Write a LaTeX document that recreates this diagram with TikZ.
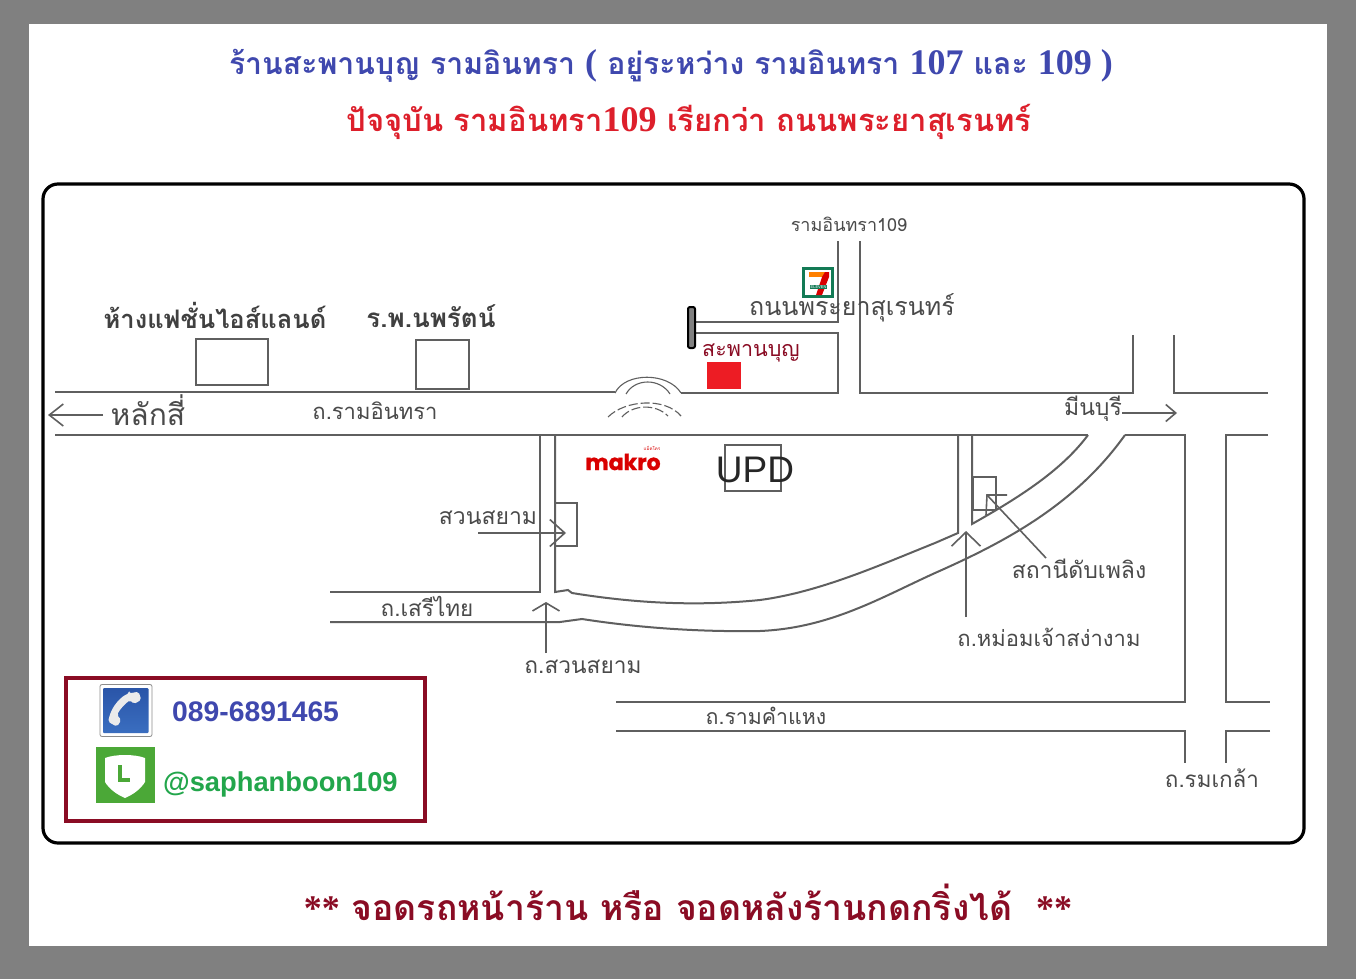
\documentclass[tikz,border=0pt]{standalone}
\usepackage{fontspec}
\usepackage{xcolor}
\usetikzlibrary{arrows.meta}
\setmainfont{Liberation Sans}
\newfontfamily\thaifont[Script=Thai]{Loma}
\newfontfamily\titlelatin{Liberation Serif}
\newfontfamily\makrofont[BoldFeatures={FakeBold=1.2}]{Poppins}
\definecolor{roadgray}{HTML}{5F5F5F}
\definecolor{labelgray}{HTML}{4A4A4A}
\definecolor{titleblue}{HTML}{3F48AE}
\definecolor{titlered}{HTML}{DD1F2B}
\definecolor{darkred}{HTML}{8A0C24}
\definecolor{linegreen}{HTML}{4BA837}
\definecolor{textgreen}{HTML}{22A64B}
\definecolor{sevengreen}{HTML}{137A55}
\definecolor{shopred}{HTML}{ED1C24}
\definecolor{phonetop}{HTML}{2A55A8}
\definecolor{phonebottom}{HTML}{3A6EC0}
\newcommand{\fs}[1]{\fontsize{#1}{#1}\selectfont}
\tikzset{
  road/.style={draw=roadgray,line width=2pt},
  thin road/.style={draw=roadgray,line width=1.1pt},
  pointer/.style 2 args={draw=roadgray,line width=1.6pt,-{Straight Barb[length=#1pt,width=#2pt]}},
  maplabel/.style={text=labelgray,font=\thaifont\fs{#1},inner sep=1pt},
  boldlabel/.style={text=black!75,font=\thaifont\bfseries\fs{#1},inner sep=1pt},
  title/.style={font=\thaifont\bfseries\fs{#1},inner sep=0pt}}

\begin{document}
\begin{tikzpicture}[x=1pt,y=-1pt]
    \useasboundingbox (0,0) rectangle (1356,979);
    \fill[black!50] (0,0) rectangle (1356,979);
    \fill[white] (29,24) rectangle (1327,946);
    \draw[black,line width=3.2pt,rounded corners=15pt] (43,184) rectangle (1304,843);
    % titles
    \node[title=30.2,text=titleblue] (titleone) at (671,66) {ร้านสะพานบุญ รามอินทรา {\titlelatin\fs{36}(} อยู่ระหว่าง รามอินทรา {\titlelatin\fs{36}107} และ {\titlelatin\fs{36}109 )}};
    \node[title=31,text=titlered] (titletwo) at (689,122) {ปัจจุบัน รามอินทรา{\titlelatin\fs{36}109} เรียกว่า ถนนพระยาสุเรนทร์};
    \node[title=35.5,text=darkred] (titlebottom) at (688,902) {{\titlelatin\fs{36}**} จอดรถหน้าร้าน หรือ จอดหลังร้านกดกริ่งได้ ~{\titlelatin\fs{36}**}};
    % roads
    \draw[road] (55,392)--(615,392);
    \draw[road] (681,393)--(838,393)--(838,333)--(695,333);
    \draw[road] (695,322)--(838,322)--(838,241);
    \draw[road] (860,241)--(860,393)--(1133,393)--(1133,335);
    \draw[road] (1174,335)--(1174,393)--(1268,393);
    \draw[road] (55,435)--(1088,435);
    \draw[road] (1125,435)--(1185,435)--(1185,702)--(616,702);
    \draw[road] (1268,435)--(1226,435)--(1226,702)--(1270,702);
    \draw[road] (616,731)--(1185,731)--(1185,763);
    \draw[road] (1270,731)--(1226,731)--(1226,763);
    \draw[road] (330,592)--(540,592)--(540,435);
    \draw[road] (958,435)--(958,533)--(935,543);
    \draw[road] (555,435)--(555,592)--(568,590)--(572,593) .. controls (640,604) and (700,606) .. (760,600) .. controls (820,592) and (880,565) .. (935,543);
    \draw[road] (330,622)--(560,622)--(582,619) .. controls (640,628) and (700,632) .. (760,631) .. controls (830,628) and (880,598) .. (935,573) .. controls (1005,542) and (1075,505) .. (1125,435);
    \draw[road] (972,435)--(972,524) .. controls (1020,497) and (1062,470) .. (1088,435);
    % bridge
    \draw[thin road] (615,393) .. controls (625,372) and (668,372) .. (681,393);
    \draw[thin road] (626,394) .. controls (635,378) and (660,378) .. (670,394);
    \draw[thin road,dash pattern=on 9pt off 3pt] (608,417) .. controls (625,400) and (665,397) .. (681,416);
    \draw[thin road,dash pattern=on 9pt off 3pt] (622,417) .. controls (632,405) and (655,403) .. (668,416);
    % buildings
    \node[draw=roadgray,line width=1.6pt,minimum width=72pt,minimum height=46pt,inner sep=0pt] (fashionbox) at (232,362) {};
    \node[draw=roadgray,line width=1.6pt,minimum width=53pt,minimum height=49pt,inner sep=0pt] (hospitalbox) at (442.5,364.5) {};
    \node[draw=roadgray,line width=1.3pt,minimum width=56pt,minimum height=46pt,inner sep=0pt] (updbox) at (753,468) {};
    \node[draw=roadgray,line width=1.3pt,minimum width=22pt,minimum height=43pt,inner sep=0pt] (siambox) at (566,524.5) {};
    \node[draw=roadgray,line width=1.3pt,minimum width=23pt,minimum height=33pt,inner sep=0pt] (firebox) at (984.5,493.5) {};
    % shop
    \fill[shopred] (707,362) rectangle (741,389);
    \draw[black,fill=gray,line width=2pt,rounded corners=2pt] (688,307) rectangle (695,348);
    % seven eleven
    \draw[sevengreen,line width=2.6pt,fill=white] (803.3,268.3) rectangle (832.7,296.7);
    \fill[orange] (809,272) rectangle (826,277);
    \fill[red!85!black] (825,272)--(829,272)--(829,277)--(822,295)--(816,295)--(822,277)--cycle;
    \node[fill=sevengreen,text=white,font=\fs{4},inner sep=.7pt] (eleven) at (818.5,287) {ELEVEN};
    % labels
    \node[boldlabel=25.5] (fashion) at (215,315) {ห้างแฟชั่นไอส์แลนด์};
    \node[boldlabel=26] (hospital) at (431,316) {ร.พ.นพรัตน์};
    \node[maplabel=30] (laksi) at (148,410) {หลักสี่};
    \node[maplabel=22] (ramroad) at (375,411) {ถ.รามอินทรา};
    \node[maplabel=23] (minburi) at (1093,409) {มีนบุรี};
    \node[maplabel=18] (ram109) at (849,224) {รามอินทรา109};
    \node[maplabel=25] (phraya) at (852,308) {ถนนพระยาสุเรนทร์};
    \node[text=darkred,font=\thaifont\fs{21.5},inner sep=0pt] (shop) at (751,353) {สะพานบุญ};
    \node[maplabel=23] (siam) at (488,518) {สวนสยาม};
    \node[maplabel=22.5] (seri) at (427,606) {ถ.เสรีไทย};
    \node[maplabel=22.7] (siamroad) at (583,667) {ถ.สวนสยาม};
    \node[maplabel=22] (mom) at (1049,637) {ถ.หม่อมเจ้าสง่างาม};
    \node[maplabel=23] (fire) at (1079,569) {สถานีดับเพลิง};
    \node[maplabel=21.3] (ramkhamhaeng) at (766,716) {ถ.รามคำแหง};
    \node[maplabel=22.4] (romklao) at (1212,778) {ถ.รมเกล้า};
    \node[text=black!85,font=\fs{37},inner sep=0pt] (upd) at (755,470) {UPD};
    \node[text=red!85!black,font=\makrofont\bfseries\fs{22},inner sep=0pt] (makro) at (623,462) {makro};
    \node[text=red!85!black,font=\thaifont\fs{4.5},inner sep=0pt] (makrothai) at (652,448) {แม็คโคร};
    % arrows
    \coordinate (laksistart) at (103,415);
    \coordinate (laksitip) at (48,415);
    \coordinate (minburistart) at (1122,413);
    \coordinate (minburitip) at (1177,413);
    \coordinate (siamstart) at (478,533);
    \coordinate (siamtip) at (566,533);
    \coordinate (seristart) at (546,653);
    \coordinate (seritip) at (546,602);
    \coordinate (momstart) at (966,617);
    \coordinate (momtip) at (966,531);
    \coordinate (firestart) at (1046,558);
    \coordinate (firetip) at (987,495);
    \draw[pointer={14}{22}] (laksistart)--(laksitip);
    \draw[pointer={10}{17}] (minburistart)--(minburitip);
    \draw[pointer={15}{27}] (siamstart)--(siamtip);
    \draw[pointer={8}{27}] (seristart)--(seritip);
    \draw[pointer={14}{29}] (momstart)--(momtip);
    \draw[draw=roadgray,line width=1.6pt] (firestart)--(firetip);
    \draw[draw=roadgray,line width=1.6pt] (1007,495)--(firetip)--(986,515);
    % contact
    \draw[darkred,line width=3.6pt] (66,678) rectangle (425,821);
    \draw[black!45,fill=white,line width=.8pt,rounded corners=2pt] (100,684.5) rectangle (152,736.5);
    \shade[top color=phonetop,bottom color=phonebottom,rounded corners=1pt] (103,688) rectangle (148.5,733);
    \fill[black!8,rounded corners=2pt] (129.3,693.3)--(138.7,691.7)--(141.3,700)--(133.7,704)--(130,700) .. controls (125,704) and (120,709) .. (117,715)--(121.3,720)--(117,726.7)--(108,721.7)--(110.3,713.3) .. controls (115,703) and (122,696) .. (129.3,693.3)--cycle;
    \fill[linegreen] (96,747) rectangle (155,803);
    \fill[white] (105,758) .. controls (115,754) and (135,754) .. (145,758) -- (145,782) .. controls (140,790) and (132,795) .. (125,798) .. controls (118,795) and (110,790) .. (105,782) -- cycle;
    \draw[linegreen,line width=4pt] (120,765)--(120,780)--(130,780);
    \node[anchor=west,text=titleblue,font=\bfseries\fs{28.3},inner sep=0pt] (phone) at (172,712) {089-6891465};
    \node[anchor=west,text=textgreen,font=\bfseries\fs{27.3},inner sep=0pt] (lineid) at (163,784) {@saphanboon109};
\end{tikzpicture}
\end{document}
